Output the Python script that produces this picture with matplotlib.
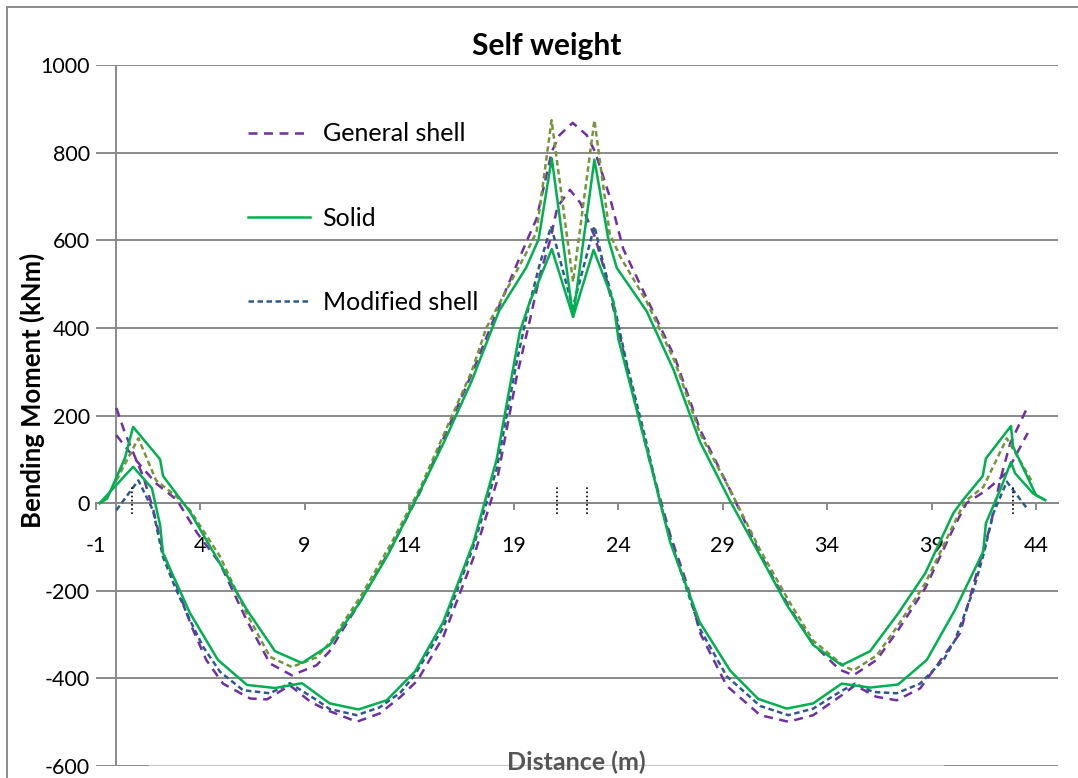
import matplotlib
matplotlib.use('Agg')
import matplotlib.pyplot as plt
from matplotlib.lines import Line2D
from matplotlib.patches import Rectangle

plt.rcParams['font.family'] = ['Lato', 'DejaVu Sans']
plt.rcParams['axes.unicode_minus'] = False

# ---------------- data ----------------
title = "Self weight"
x_label = "Distance (m)"
y_label = "Bending Moment (kNm)"
x_ticks = [-1, 4, 9, 14, 19, 24, 29, 34, 39, 44]
y_ticks = [-600, -400, -200, 0, 200, 400, 600, 800, 1000]
legend_labels = ["General shell", "Solid", "Modified shell"]

# General shell (purple dashed) - outer curve
gen_outer_x = [0, 0.9, 1.9, 2.9, 3.86, 4.96, 6.23, 7.35, 8.39, 9.58, 10.2, 11.66, 13.17, 14.53,
               15.72, 17.0, 18.27, 19.62, 20.1, 20.83, 21.2, 21.83, 22.5, 22.9, 23.6, 24.25,
               25.37, 26.73, 27.92, 29.36, 30.8, 32.23, 33.34, 34.6, 35.26, 36.37, 37.4, 38.7,
               40.04, 40.67, 41.64, 42.6, 43.6]
gen_outer_y = [155, 100, 45, 7, -68, -138, -267, -366, -393, -370, -338, -225, -100, 25,
               155, 295, 445, 597, 649, 802, 840, 868, 840, 802, 700, 580,
               468, 331, 168, 30, -116, -241, -322, -380, -393, -358, -290, -194,
               -58, 0, 30, 70, 160]

# General shell (purple dashed) - inner curve
gen_inner_x = [0, 0.41, 1.29, 1.77, 2.25, 2.9, 3.6, 4.3, 5.1, 6.4, 7.2, 8.3, 9.3, 10.1, 11.5,
               12.6, 13.6, 14.4, 15.64, 17.08, 18.19, 19.15, 19.78, 20.26, 20.75, 21.1, 21.7,
               22.2, 22.9, 23.3, 24.0, 24.7, 25.5, 26.5, 27.3, 27.93, 29.2, 30.8, 32.15, 33.34,
               34.6, 35.34, 36.36, 37.33, 38.45, 39.1, 40.36, 41.16, 41.8, 42.28, 42.76, 43.6]
gen_inner_y = [217, 160, 60, -16, -115, -191, -282, -358, -412, -446, -448, -416, -454, -473, -499,
               -480, -442, -405, -305, -125, 47, 288, 417, 520, 600, 676, 715,
               685, 607, 540, 400, 254, 99, -73, -185, -297, -417, -484, -499, -484,
               -442, -416, -442, -450, -423, -381, -297, -160, -54, 52, 136, 220]

# Solid (green) - outer curve
solid_outer_x = [-0.8, -0.45, 0.41, 0.8, 2.09, 2.23, 3.52, 4.86, 6.25, 7.59, 8.88, 10.2, 11.6,
                 13.0, 14.4, 15.7, 17.0, 18.3, 19.6, 20.2, 20.83, 21.85, 22.87, 23.54, 23.94,
                 25.37, 26.65, 27.92, 29.36, 30.8, 32.07, 33.34, 34.7, 36.06, 37.4, 38.7, 40.04,
                 40.5, 41.45, 41.6, 42.8, 42.9, 44.0, 44.43]
solid_outer_y = [0, 10, 103, 174, 100, 62, -20, -130, -244, -338, -365, -324, -230,
                 -117, 15, 142, 279, 438, 537, 602, 787, 425, 784, 602, 537,
                 438, 305, 140, 5, -120, -232, -324, -370, -338, -252, -160, -23,
                 7, 62, 102, 176, 129, 18, 7]

# Solid (green) - inner curve
solid_inner_x = [-0.8, 0.8, 1.7, 2.09, 2.23, 3.52, 4.86, 6.25, 7.59, 8.88, 10.2, 11.58, 12.93,
                 14.29, 15.64, 17.08, 18.19, 19.3, 19.78, 20.18, 20.83, 21.85, 22.83, 23.78,
                 24.02, 25.45, 26.5, 27.9, 29.36, 30.71, 32.07, 33.34, 34.7, 36.06, 37.4, 38.77,
                 40.12, 41.47, 41.6, 42.28, 42.8, 43.0, 43.86, 44.43]
solid_inner_y = [0, 83, 34, -50, -114, -251, -358, -415, -422, -411, -457, -471, -450,
                 -384, -271, -90, 99, 391, 460, 503, 580, 425, 578, 460,
                 374, 110, -90, -271, -382, -447, -469, -457, -412, -421, -414, -358,
                 -244, -111, -46, 30, 94, 68, 22, 7]

# Modified shell (dark blue dashed)
mod_x = [0, 1.05, 1.75, 2.23, 2.8, 3.52, 4.15, 4.96, 6.06, 7.35, 8.3, 9.6, 10.2, 11.5, 12.6,
         13.6, 14.29, 15.64, 17.08, 18.19, 19.15, 19.7, 20.26, 20.8, 21.83, 22.87, 23.3, 23.85,
         24.4, 25.3, 26.0, 26.66, 27.93, 29.2, 30.8, 32.15, 33.34, 34.6, 35.34, 36.2, 37.33,
         38.45, 39.57, 40.12, 41.0, 41.5, 41.96, 42.6, 43.63]
mod_y = [-16, 52, -16, -123, -191, -267, -328, -385, -427, -434, -411, -450, -470, -484, -466,
         -432, -391, -284, -99, 77, 322, 443, 546, 632, 446, 632, 546, 443,
         322, 150, 4, -107, -288, -395, -463, -484, -469, -431, -412, -431, -434,
         -412, -358, -313, -199, -115, -23, 49, -16]

# Second modified-shell curve (olive dashed, not in legend)
olive_x = [0, 1.05, 1.9, 2.9, 3.52, 4.96, 6.23, 7.35, 8.39, 9.58, 10.22, 11.66, 13.17, 14.53,
           15.72, 17.0, 17.7, 18.27, 19.62, 20.1, 20.82, 21.85, 22.87, 23.6, 24.1, 25.37, 26.73,
           27.92, 29.36, 30.8, 32.23, 33.34, 34.78, 35.26, 36.37, 37.4, 38.7, 40.04, 40.6,
           41.48, 42.6, 43.86]
olive_y = [52, 148, 52, 14, -16, -122, -252, -351, -374, -352, -318, -215, -90, 34,
           163, 301, 400, 451, 572, 619, 874, 505, 874, 615, 563, 460, 322,
           159, 30, -107, -228, -314, -371, -382, -348, -279, -183, -50, 4,
           37, 148, 45]

# support markers (black dotted)
support_x = [0.73, 21.1, 22.5, 42.9]
support_top = 40
support_bottom = -25

# ---------------- styling ----------------
PURPLE = '#7030A0'
GREEN = '#00B050'
BLUE = '#2E5A8A'
OLIVE = '#77933C'
GRID = '#8A8A8A'

W, H = 1078, 778
fig = plt.figure(figsize=(W / 100, H / 100), dpi=100)
ax = fig.add_axes([95.5 / W, 12 / H, 962.5 / W, 701 / H])
ax.set_xlim(-1, 45.05)
ax.set_ylim(-600, 1000)

for s in ['top', 'right', 'left']:
    ax.spines[s].set_visible(False)
ax.spines['bottom'].set_position(('data', 0))
ax.spines['bottom'].set_color(GRID)
ax.spines['bottom'].set_linewidth(1.4)
ax.spines['bottom'].set_zorder(1)

ax.set_yticks(y_ticks)
ax.set_xticks(x_ticks)
ax.yaxis.grid(True, color=GRID, lw=1.4, zorder=0)
ax.set_axisbelow(True)
ax.axvline(0, color=GRID, lw=1.4, zorder=1)
# lighter middle stretch of the bottom gridline, as in the reference
ax.axhline(-600, xmin=(150 - 95.5) / 962.5, xmax=(943 - 95.5) / 962.5,
           color='#C8C8C8', lw=1.6, zorder=0.6)
ax.tick_params(axis='y', length=0, pad=4, labelsize=15.5, labelcolor='black')
ax.tick_params(axis='x', direction='out', length=5, width=1.4, color=GRID, pad=19,
               labelsize=15.5, labelcolor='black')

lw = 1.8
ax.plot(gen_outer_x, gen_outer_y, color=PURPLE, lw=lw, dashes=(3.6, 2.6), zorder=3)
ax.plot(gen_inner_x, gen_inner_y, color=PURPLE, lw=lw, dashes=(3.6, 2.6), zorder=3)
ax.plot(olive_x, olive_y, color=OLIVE, lw=lw, dashes=(2.2, 1.4), zorder=3)
ax.plot(mod_x, mod_y, color=BLUE, lw=lw, dashes=(2.2, 1.4), zorder=3)
ax.plot(solid_outer_x, solid_outer_y, color=GREEN, lw=lw, zorder=4)
ax.plot(solid_inner_x, solid_inner_y, color=GREEN, lw=lw, zorder=4)
ax.vlines(support_x, support_bottom, support_top, colors='black', lw=1.2,
          linestyles=(0, (1, 1.5)), zorder=5)

handles = [Line2D([], [], color=PURPLE, lw=lw, dashes=(3.6, 2.6)),
           Line2D([], [], color=GREEN, lw=lw),
           Line2D([], [], color=BLUE, lw=lw, dashes=(2.2, 1.4))]
ax.legend(handles, legend_labels, loc='upper left', bbox_to_anchor=(0.158, 0.918),
          frameon=False, fontsize=18, handlelength=2.5, handletextpad=0.5,
          labelspacing=2.45, borderpad=0, borderaxespad=0)

fig.text(547 / W, 1 - 46 / H, title, ha='center', va='center', fontsize=21.5,
         fontweight='bold')
fig.text(32 / W, 1 - 390 / H, y_label, ha='center', va='center', rotation=90,
         fontsize=18.5, fontweight='bold')
fig.text(576 / W, 1 - 762 / H, x_label, ha='center', va='center', fontsize=18,
         fontweight='bold', color='#555555')

fig.patches.append(Rectangle((7 / W, -0.1), 1.2, 1.1 - 7 / H, transform=fig.transFigure,
                             fill=False, edgecolor=GRID, lw=1.4))

fig.savefig('out.png', dpi=100)
